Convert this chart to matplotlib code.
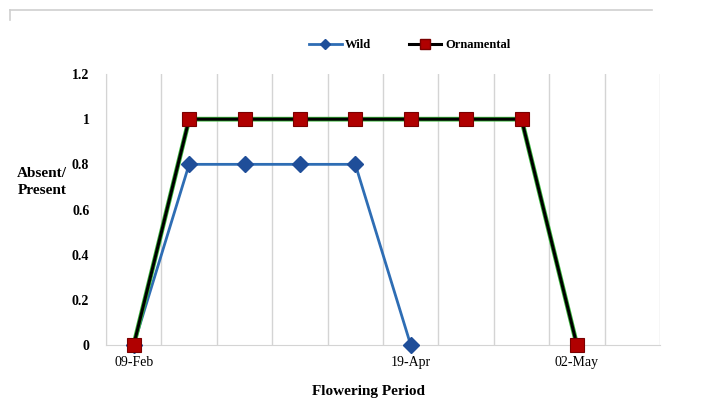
import numpy as np
import matplotlib.pyplot as plt
from matplotlib.lines import Line2D

# categories along the flowering period (only some are labelled)
tick_labels = ['09-Feb', '', '', '', '', '19-Apr', '', '', '02-May', '']
wild = [0, 0.8, 0.8, 0.8, 0.8, 0]
ornamental = [0, 1, 1, 1, 1, 1, 1, 1, 0]
y_ticks = [0, 0.2, 0.4, 0.6, 0.8, 1, 1.2]

plt.rcParams['font.family'] = ['Liberation Serif', 'DejaVu Serif']

fig = plt.figure(figsize=(7.04, 4.08), dpi=100)
ax = fig.add_axes([0.1506, 0.1544, 0.7869, 0.6642])

n = len(tick_labels)
x_all = np.arange(n)
x_wild = np.arange(len(wild))
x_orn = np.arange(len(ornamental))

ax.plot(x_wild, wild, color='#2E6DB4', lw=2, marker='D', ms=8,
        mfc='#1F4E99', mec='#1F4E99', zorder=3, clip_on=False)
# green halo under the black ornamental line
ax.plot(x_orn, ornamental, color='#39B83A', lw=3.4, zorder=4, clip_on=False)
ax.plot(x_orn, ornamental, color='black', lw=2.2, marker='s', ms=10,
        mfc='#B00000', mec='#7A0000', mew=0.8, zorder=5, clip_on=False)

ax.set_xlim(-0.5, n - 0.5)
ax.set_ylim(0, 1.2)
ax.set_xticks(x_all)
ax.set_xticklabels(tick_labels, fontsize=10)
ax.set_xticks(np.arange(-0.5, n), minor=True)
ax.grid(True, axis='x', which='minor', color='#D4D4D4', lw=1)
ax.tick_params(axis='x', which='both', length=0, pad=8)
ax.set_yticks(y_ticks)
ax.set_yticklabels([str(v) if v not in (0, 1) else str(int(v)) for v in y_ticks],
                   fontsize=10, fontweight='bold')
ax.tick_params(axis='y', length=0, pad=12)

for s in ['top', 'right']:
    ax.spines[s].set_visible(False)
ax.spines['left'].set_color('#D4D4D4')
ax.spines['bottom'].set_color('#D4D4D4')

fig.text(0.06, 0.555, 'Absent/\nPresent', fontsize=11, fontweight='bold',
         ha='center', va='center', linespacing=1.4)
fig.text(0.523, 0.025, 'Flowering Period', fontsize=11, fontweight='bold',
         ha='center', va='bottom')

# legend above the plot
h_wild = Line2D([], [], color='#2E6DB4', lw=2, marker='D', ms=5,
                mfc='#1F4E99', mec='#1F4E99')
h_orn = Line2D([], [], color='black', lw=2.2, marker='s', ms=7,
               mfc='#B00000', mec='#7A0000')
fig.legend([h_wild, h_orn], ['Wild', 'Ornamental'], loc='center',
           bbox_to_anchor=(0.582, 0.89), ncol=2, frameon=False,
           prop={'weight': 'bold', 'size': 9}, handlelength=2.6,
           columnspacing=3, handletextpad=0.3)

# light frame line at the top
fig.add_artist(Line2D([0.014, 0.926], [0.975, 0.975], color='#CFCFCF', lw=1.2))
fig.add_artist(Line2D([0.014, 0.014], [0.975, 0.95], color='#CFCFCF', lw=1.2))

fig.savefig('out.png', dpi=100)
